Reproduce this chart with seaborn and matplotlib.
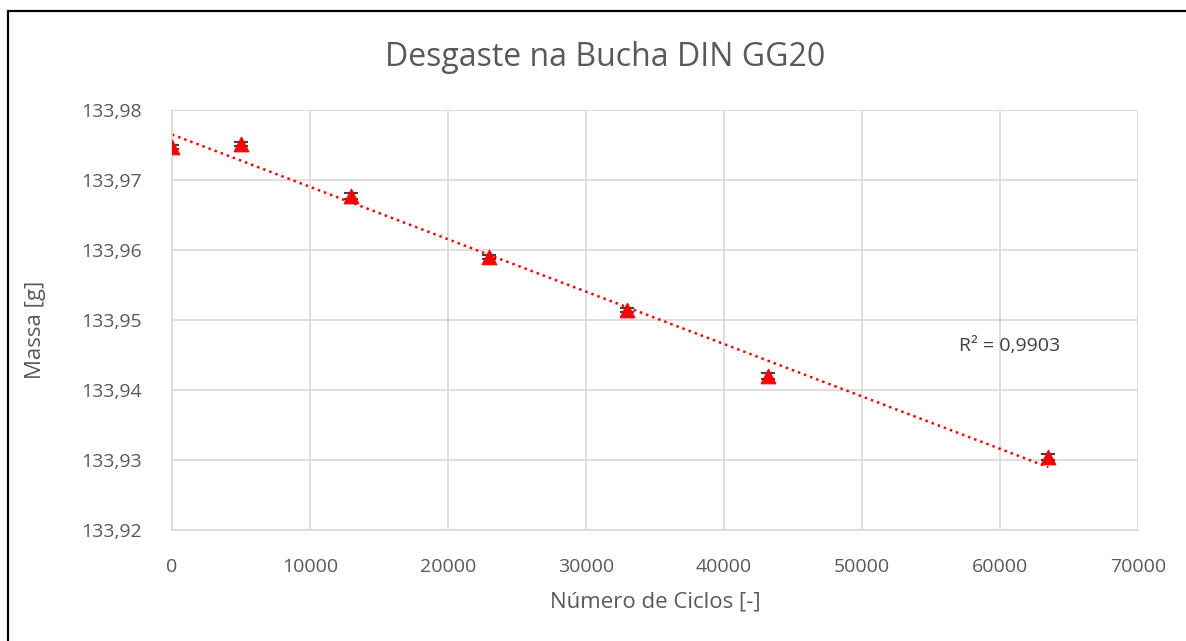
import numpy as np
import pandas as pd
import matplotlib
matplotlib.use("Agg")
import matplotlib.pyplot as plt
import seaborn as sns
from matplotlib.ticker import FuncFormatter, MultipleLocator

ciclos = [0, 5000, 13000, 23000, 33000, 43200, 63500]
massa = [133.9747, 133.9751, 133.9677, 133.9590, 133.9514, 133.9420, 133.9304]
erro = [0.0003, 0.0003, 0.0004, 0.0003, 0.0003, 0.0005, 0.0004]
titulo = "Desgaste na Bucha DIN GG20"
r2_text = "R² = 0,9903"

df = pd.DataFrame({"ciclos": ciclos, "massa": massa, "erro": erro})

sns.set_theme(style="white")
plt.rcParams['font.family'] = ['Open Sans', 'DejaVu Sans']
txt = "#595959"

W, H = 1186, 641
fig = plt.figure(figsize=(W / 100, H / 100), dpi=100)
ax = fig.add_axes([172 / W, 1 - 530 / H, (1138 - 172) / W, (530 - 110) / H])

# linear trendline
coef = np.polyfit(df["ciclos"], df["massa"], 1)
xs = np.array([0, max(ciclos)])
ax.plot(xs, np.polyval(coef, xs), color="red", linestyle=(0, (1, 1.6)), linewidth=1.8, zorder=2)

ax.errorbar(df["ciclos"], df["massa"], yerr=df["erro"], fmt="none", ecolor="#404040",
            elinewidth=1.2, capsize=5, capthick=1.5, zorder=3)
sns.scatterplot(data=df, x="ciclos", y="massa", marker="^", s=110, color="red",
                edgecolor="red", ax=ax, zorder=4, legend=False)

ax.set_xlim(0, 70000)
ax.set_ylim(133.92, 133.98)
ax.xaxis.set_major_locator(MultipleLocator(10000))
ax.yaxis.set_major_locator(MultipleLocator(0.01))
ax.yaxis.set_major_formatter(FuncFormatter(lambda v, p: f"{v:.2f}".replace(".", ",")))
ax.xaxis.set_major_formatter(FuncFormatter(lambda v, p: f"{int(round(v))}"))
ax.grid(True, color="#d9d9d9", linewidth=1.2)
for s in ["top", "right"]:
    ax.spines[s].set_visible(False)
for s in ["left", "bottom"]:
    ax.spines[s].set_color("#d9d9d9")
    ax.spines[s].set_linewidth(1.2)
ax.tick_params(axis="y", colors=txt, labelsize=14, length=0, pad=22)
ax.tick_params(axis="x", colors=txt, labelsize=14, length=0, pad=20)

ax.set_xlabel("")
ax.set_ylabel("")
fig.text(655 / W, 1 - 602 / H, "Número de Ciclos [-]", ha="center", va="center", fontsize=16, color=txt)
fig.text(35 / W, 1 - 330 / H, "Massa [g]", ha="center", va="center", fontsize=16, color=txt, rotation=90)
fig.text(605 / W, 1 - 57 / H, titulo, ha="center", va="center", fontsize=23, color=txt)
ax.text(57000, 133.9463, r2_text, color="#404040", fontsize=14, ha="left", va="center")

fig.patches.append(plt.Rectangle((8 / W, -0.05), 1.1, 1 - 11 / H + 0.05, transform=fig.transFigure,
                                 fill=False, edgecolor="black", linewidth=1.6, clip_on=False))

fig.savefig("out.png", dpi=100)
